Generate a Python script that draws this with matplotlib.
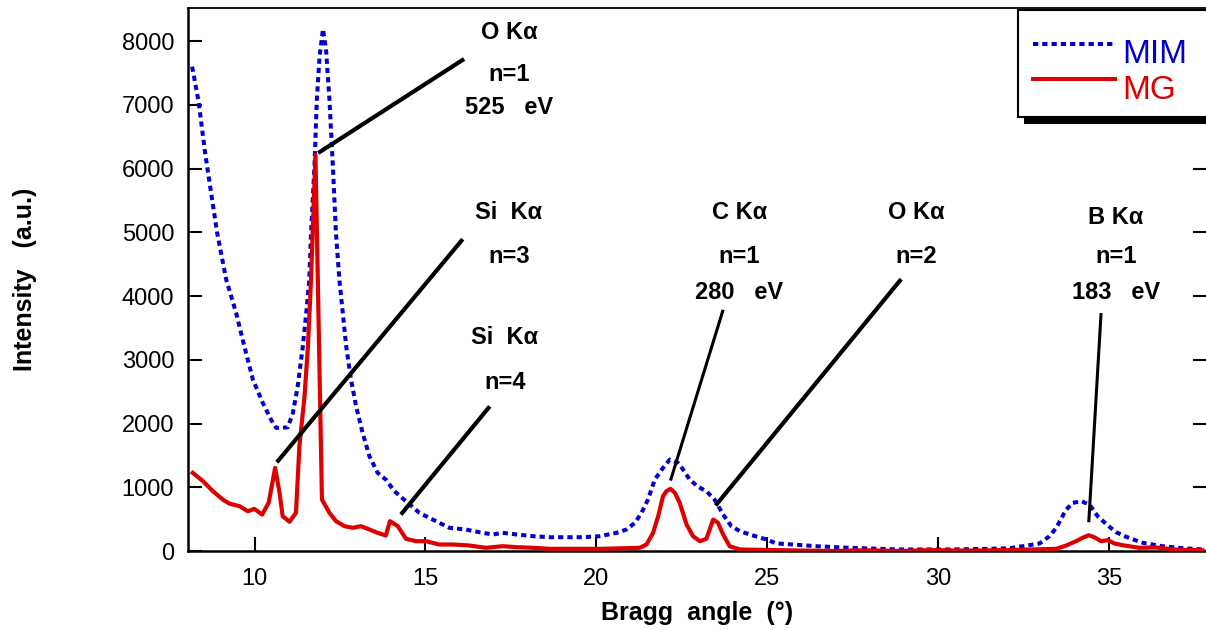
import numpy as np
import matplotlib
matplotlib.use('Agg')
import matplotlib.pyplot as plt
from matplotlib.patches import Rectangle
from matplotlib.lines import Line2D

# ---- data ----
mim_angle = [8.17, 8.36, 8.55, 8.9, 9.17, 9.46, 9.70, 9.95, 10.24, 10.48, 10.63, 10.97,
             11.12, 11.26, 11.41, 11.51, 11.60, 11.65, 11.75, 11.82, 11.90, 12.0, 12.09,
             12.19, 12.29, 12.38, 12.48, 12.58, 12.68, 12.82, 12.97, 13.16, 13.36, 13.60,
             13.84, 14.09, 14.43, 14.82, 15.21, 15.70, 16.18, 16.57, 16.97, 17.26, 17.67,
             18.15, 18.64, 19.13, 19.61, 20.10, 20.59, 20.88, 21.13, 21.32, 21.51, 21.71,
             21.95, 22.15, 22.39, 22.54, 22.73, 22.98, 23.22, 23.46, 23.71, 23.95, 24.20,
             24.49, 24.98, 25.27, 25.75, 26.44, 27.41, 28.87, 30.33, 31.51, 32.09, 32.48,
             32.97, 33.26, 33.46, 33.60, 33.75, 33.94, 34.19, 34.43, 34.67, 34.97, 35.21,
             35.50, 35.99, 36.57, 37.16, 37.74]
mim_intensity = [7600, 7050, 6250, 5000, 4255, 3733, 3210, 2688, 2323, 2061, 1931, 1940,
                 2166, 2583, 3210, 3733, 4255, 4987, 6031, 7077, 7756, 8190, 7860,
                 7077, 6031, 4987, 4255, 3733, 3210, 2688, 2270, 1853, 1486, 1226,
                 1121, 938, 781, 599, 494, 364, 337, 295, 259, 285, 259,
                 232, 216, 216, 216, 232, 285, 337, 442, 599, 807, 1121,
                 1304, 1434, 1382, 1277, 1121, 1006, 938, 807, 572, 389, 311,
                 259, 180, 118, 102, 75, 50, 24, 24, 34, 44, 75,
                 118, 232, 364, 505, 650, 755, 781, 729, 546, 400, 295,
                 223, 128, 75, 44, 24]

mg_angle = [8.19, 8.49, 8.78, 9.07, 9.26, 9.56, 9.80, 9.99, 10.22, 10.41, 10.60, 10.73,
            10.82, 11.02, 11.21, 11.31, 11.46, 11.56, 11.65, 11.78, 11.97, 12.19, 12.38,
            12.63, 12.87, 13.11, 13.36, 13.60, 13.84, 13.96, 14.19, 14.43, 14.72, 15.01,
            15.40, 15.80, 16.28, 16.77, 17.26, 17.67, 18.15, 18.64, 19.13, 20.10, 20.88,
            21.27, 21.47, 21.66, 21.81, 21.95, 22.05, 22.17, 22.30, 22.44, 22.64, 22.83,
            23.03, 23.22, 23.42, 23.56, 23.71, 23.90, 24.20, 24.98, 25.9, 26.92, 27.9,
            28.87, 29.8, 30.8, 31.51, 32.48, 33.46, 33.75, 34.04, 34.23, 34.41, 34.57,
            34.77, 34.97, 35.16, 35.40, 35.89, 36.38, 37.0, 37.74]
mg_intensity = [1226, 1095, 938, 807, 744, 703, 624, 661, 572, 755, 1304, 912,
                546, 458, 599, 1643, 2427, 3210, 4255, 6215, 807, 599, 468,
                389, 364, 389, 337, 285, 243, 468, 389, 191, 154, 154,
                102, 102, 86, 50, 75, 60, 50, 34, 34, 34, 44,
                50, 102, 285, 546, 859, 938, 975, 912, 755, 415, 232,
                154, 191, 494, 442, 259, 75, 24, 16, 8, 0, 12,
                0, 14, 6, 10, 20, 34, 86, 154, 207, 248, 216,
                154, 170, 118, 91, 50, 55, 20, 10]

series_names = ['MIM', 'MG']
x_ticks = [10, 15, 20, 25, 30, 35]
y_ticks = [0, 1000, 2000, 3000, 4000, 5000, 6000, 7000, 8000]

# peak labels: text lines, label centre x, y of each line, pointer line (x0, y0, x1, y1), width
peak_labels = [
    (['O K\u03b1', 'n=1', '525   eV'], 17.45, [8143, 7483, 6951], (11.86, 6245, 16.13, 7720), 3.0),
    (['Si  K\u03b1', 'n=3'], 17.44, [5306, 4616], (10.65, 1392, 16.09, 4893), 3.0),
    (['Si  K\u03b1', 'n=4'], 17.32, [3346, 2641], (14.28, 572, 16.88, 2270), 3.0),
    (['C K\u03b1', 'n=1', '280   eV'], 24.19, [5306, 4616, 4052], (22.17, 1105, 23.71, 3785), 2.2),
    (['O K\u03b1', 'n=2'], 29.37, [5306, 4616], (23.49, 713, 28.92, 4266), 3.0),
    (['B K\u03b1', 'n=1', '183   eV'], 35.21, [5227, 4616, 4052], (34.41, 451, 34.77, 3734), 2.2),
]

blue = '#0000d0'
red = '#dd0000'

plt.rcParams['font.family'] = ['Liberation Sans', 'DejaVu Sans']

fig = plt.figure(figsize=(12.06, 6.30), dpi=100)
ax = fig.add_axes([188 / 1206, 79 / 630, 1019 / 1206, 543 / 630])

ax.plot(mim_angle, mim_intensity, color=blue, lw=2.9, linestyle=(0, (1.3, 1.0)),
        dash_capstyle='butt', label=series_names[0], zorder=3)
ax.plot(mg_angle, mg_intensity, color=red, lw=3.0, label=series_names[1],
        solid_joinstyle='round', zorder=4)

for lines, xc, ys, (x0, y0, x1, y1), w in peak_labels:
    ax.plot([x0, x1], [y0, y1], color='black', lw=w, solid_capstyle='butt', zorder=5)
    for txt, yy in zip(lines, ys):
        ax.text(xc, yy, txt, ha='center', va='center', fontsize=17, fontweight='bold')

ax.set_xlim(8.05, 37.87)
ax.set_ylim(0, 8520)
ax.set_xticks(x_ticks)
ax.set_yticks(y_ticks)
ax.tick_params(axis='both', direction='in', labelsize=17, width=1.5)
ax.tick_params(axis='y', length=10, pad=10, right=True)
ax.tick_params(axis='x', length=10, pad=12)
for s in ['left', 'bottom']:
    ax.spines[s].set_linewidth(1.8)
ax.spines['top'].set_linewidth(1.3)

ax.set_xlabel('Bragg  angle  (\u00b0)', fontsize=18, fontweight='bold', labelpad=8)
ax.set_ylabel('Intensity   (a.u.)', fontsize=18, fontweight='bold')
ax.yaxis.set_label_coords(-0.148, 0.5)

# legend box drawn by hand (shadowed frame running off the right edge)
W, H = 1206.0, 630.0
def fx(px):
    return px / W
def fy(py):
    return 1 - py / H

fig.add_artist(Rectangle((fx(1024), fy(124)), fx(1300) - fx(1024), fy(16) - fy(124),
                         transform=fig.transFigure, facecolor='black', edgecolor='none', zorder=10))
fig.add_artist(Rectangle((fx(1018), fy(117)), fx(1300) - fx(1018), fy(10) - fy(117),
                         transform=fig.transFigure, facecolor='white', edgecolor='black',
                         lw=1.5, zorder=11))
fig.add_artist(Line2D([fx(1033), fx(1113)], [fy(44), fy(44)], transform=fig.transFigure,
                      color=blue, lw=2.9, linestyle=(0, (1.3, 1.0)), zorder=12))
fig.add_artist(Line2D([fx(1033), fx(1115)], [fy(79), fy(79)], transform=fig.transFigure,
                      color=red, lw=2.9, zorder=12))
fig.text(fx(1122), fy(63), series_names[0], color=blue, fontsize=24,
         ha='left', va='baseline', zorder=13)
fig.text(fx(1122), fy(99), series_names[1], color=red, fontsize=24,
         ha='left', va='baseline', zorder=13)

fig.savefig('out.png', dpi=100)
